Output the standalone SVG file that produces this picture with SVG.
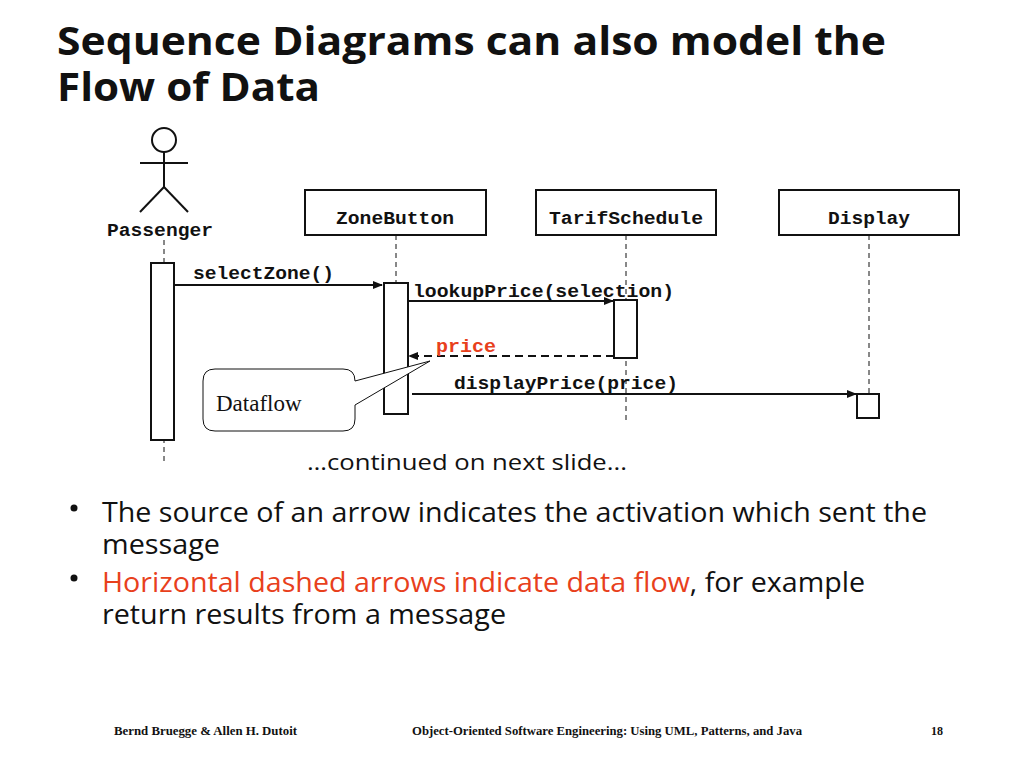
<svg xmlns="http://www.w3.org/2000/svg" width="1024" height="768" viewBox="0 0 1024 768">
<style>
.t{font-family:"Open Sans","DejaVu Sans",sans-serif;font-weight:bold;font-size:40px;fill:#111}
.m{font-family:"Liberation Mono",monospace;font-weight:bold;font-size:17.5px;fill:#111}
.b{font-family:"Open Sans","DejaVu Sans",sans-serif;font-size:27px;fill:#111}
.f{font-family:"Liberation Serif",serif;font-weight:bold;font-size:12px;fill:#111}
.box{fill:#fff;stroke:#111;stroke-width:2}
.ll{stroke:#111;stroke-width:1;stroke-dasharray:5,4}
.ar{stroke:#111;stroke-width:2;fill:none}
</style>
<defs><marker id="ah" markerWidth="10" markerHeight="8" refX="9" refY="4" orient="auto" markerUnits="userSpaceOnUse"><path d="M0,0 L10,4 L0,8 Z" fill="#111"/></marker></defs>
<text class="t" x="57" y="55" textLength="829" lengthAdjust="spacingAndGlyphs">Sequence Diagrams can also model the</text>
<text class="t" x="57" y="101" textLength="263" lengthAdjust="spacingAndGlyphs">Flow of Data</text>
<g id="lifelines">
<line class="ll" x1="164" y1="240" x2="164" y2="465"/>
<line class="ll" x1="396" y1="235" x2="396" y2="414"/>
<line class="ll" x1="626" y1="235" x2="626" y2="420"/>
<line class="ll" x1="869" y1="235" x2="869" y2="418"/>
</g>
<g id="passenger" fill="none" stroke="#111" stroke-width="2">
<circle cx="164" cy="140" r="12" fill="#fff"/>
<line x1="164" y1="152" x2="164" y2="187"/>
<line x1="140" y1="163" x2="188" y2="163"/>
<line x1="164" y1="187" x2="140" y2="212"/>
<line x1="164" y1="187" x2="188" y2="212"/>
<text class="m" x="107" y="236" stroke="none" textLength="106" lengthAdjust="spacingAndGlyphs">Passenger</text>
</g>
<g id="zonebutton"><rect class="box" x="305" y="190" width="181" height="45"/><text class="m" x="336" y="224" textLength="118" lengthAdjust="spacingAndGlyphs">ZoneButton</text></g>
<g id="tarifschedule"><rect class="box" x="536" y="190" width="180" height="45"/><text class="m" x="549" y="224" textLength="154" lengthAdjust="spacingAndGlyphs">TarifSchedule</text></g>
<g id="display"><rect class="box" x="779" y="190" width="180" height="45"/><text class="m" x="828" y="224" textLength="82" lengthAdjust="spacingAndGlyphs">Display</text></g>
<g id="activations">
<rect class="box" x="151" y="263" width="23" height="177"/>
<rect class="box" x="384" y="283" width="24" height="131"/>
<rect class="box" x="614" y="300" width="23" height="58"/>
<rect class="box" x="857" y="394" width="22" height="24"/>
</g>
<g id="connectors">
<line class="ar" x1="174" y1="285" x2="382" y2="285" marker-end="url(#ah)"/>
<text class="m" x="193" y="279" textLength="141" lengthAdjust="spacingAndGlyphs">selectZone()</text>
<line class="ar" x1="408" y1="301" x2="613" y2="301" marker-end="url(#ah)"/>
<text class="m" x="413" y="297" textLength="261" lengthAdjust="spacingAndGlyphs">lookupPrice(selection)</text>
<line class="ar" x1="614" y1="356" x2="409" y2="356" stroke-dasharray="8,5" marker-end="url(#ah)"/>
<text class="m" x="436" y="352" style="fill:#e8401c" textLength="60" lengthAdjust="spacingAndGlyphs">price</text>
<line class="ar" x1="412" y1="394" x2="856" y2="394" marker-end="url(#ah)"/>
<text class="m" x="454" y="389" textLength="224" lengthAdjust="spacingAndGlyphs">displayPrice(price)</text>
</g>
<g id="callout">
<path d="M215,369 H343 Q355,369 355,381 L430,361 L355,405 V419 Q355,431 343,431 H215 Q203,431 203,419 V381 Q203,369 215,369 Z" fill="#fff" stroke="#111" stroke-width="1"/>
<text x="216" y="411" font-family="Liberation Serif,serif" font-size="23" fill="#111">Dataflow</text>
</g>
<text x="307" y="470" font-family="Open Sans,DejaVu Sans,sans-serif" font-size="22" fill="#111" textLength="320" lengthAdjust="spacingAndGlyphs">…continued on next slide...</text>
<g id="bullets">
<circle cx="74" cy="508" r="3.5" fill="#111"/>
<text class="b" x="102" y="522" textLength="825" lengthAdjust="spacingAndGlyphs">The source of an arrow indicates the activation which sent the</text>
<text class="b" x="102" y="554" textLength="118" lengthAdjust="spacingAndGlyphs">message</text>
<circle cx="74" cy="578" r="3.5" fill="#111"/>
<text class="b" x="102" y="592" textLength="763" lengthAdjust="spacingAndGlyphs"><tspan fill="#e8401c">Horizontal dashed arrows indicate data flow</tspan>, for example</text>
<text class="b" x="102" y="624" textLength="404" lengthAdjust="spacingAndGlyphs">return results from a message</text>
</g>
<text class="f" x="114" y="735" textLength="183" lengthAdjust="spacingAndGlyphs">Bernd Bruegge &amp; Allen H. Dutoit</text>
<text class="f" x="412" y="735" textLength="390" lengthAdjust="spacingAndGlyphs">Object-Oriented Software Engineering: Using UML, Patterns, and Java</text>
<text class="f" x="931" y="735">18</text>
</svg>
